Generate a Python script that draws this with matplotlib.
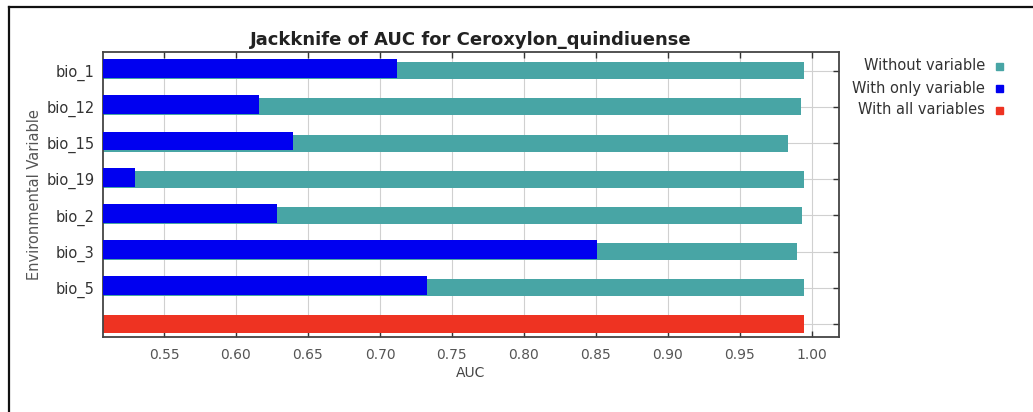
import numpy as np
import matplotlib.pyplot as plt
from matplotlib.lines import Line2D
from matplotlib.patches import Rectangle

# Maxent jackknife results for each environmental variable
variables = ["bio_1", "bio_12", "bio_15", "bio_19", "bio_2", "bio_3", "bio_5"]
auc_without = [0.9947, 0.9924, 0.9836, 0.9947, 0.9935, 0.9896, 0.9947]
auc_only = [0.7115, 0.6161, 0.6398, 0.5297, 0.6288, 0.8511, 0.7324]
auc_all = 0.9947

species = "Ceroxylon_quindiuense"
x_ticks = [0.55, 0.60, 0.65, 0.70, 0.75, 0.80, 0.85, 0.90, 0.95, 1.00]

teal = "#48a5a5"
blue = "#0000f0"
red = "#ee3322"

fig = plt.figure(figsize=(10.33, 4.12), dpi=100)
ax = fig.add_axes([0.0997, 0.182, 0.7125, 0.692])

rows = np.arange(len(variables))
ax.barh(rows, np.array(auc_without) - 0.5, left=0.5, height=0.47,
        color=teal, zorder=2)
ax.barh(rows - 0.06, np.array(auc_only) - 0.5, left=0.5, height=0.52,
        color=blue, zorder=3)
ax.barh([len(variables)], [auc_all - 0.5], left=0.5, height=0.5,
        color=red, zorder=2)

ax.set_xlim(0.5076, 1.0189)
ax.set_ylim(len(variables) + 0.36, -0.52)
ax.set_xticks(x_ticks)
ax.set_xticklabels([f"{t:.2f}" for t in x_ticks], color="#555555", fontsize=10)
ax.set_yticks(list(rows) + [len(variables)])
ax.set_yticklabels(variables + [""], color="#333333", fontsize=10.5)

ax.grid(True, color="#d0d0d0", linewidth=0.8, zorder=0)
ax.set_axisbelow(True)
ax.tick_params(axis="x", direction="in", top=True, length=4, width=1,
               color="#333333", pad=8)
ax.tick_params(axis="y", direction="in", right=True, left=False,
               length=4, width=1, color="#333333", pad=6)
for side in ["left", "right", "top", "bottom"]:
    ax.spines[side].set_color("#444444")
    ax.spines[side].set_linewidth(1.3)

ax.set_xlabel("AUC", color="#444444", fontsize=10, labelpad=3)
ax.set_ylabel("Environmental Variable", color="#555555", fontsize=10.5, labelpad=3)
ax.set_title(f"Jackknife of AUC for {species}", fontsize=13, fontweight="bold",
             color="#222222", pad=5)

# legend on the right: labels right-aligned, small colour squares after them
legend_items = [("Without variable", teal), ("With only variable", blue),
                ("With all variables", red)]
W, H = 1033, 412
for i, (label, col) in enumerate(legend_items):
    y = 66 + 22 * i
    fig.text(985 / W, 1 - y / H, label, ha="right", va="center",
             fontsize=10.5, color="#333333")
    fig.add_artist(Rectangle(((996) / W, 1 - (y + 3.5) / H), 7 / W, 7 / H,
                             transform=fig.transFigure, color=col))

# frame around the panel
fig.add_artist(Line2D([9 / W, 1], [1 - 7 / H, 1 - 7 / H], color="#111111",
                      linewidth=1.6, transform=fig.transFigure))
fig.add_artist(Line2D([9 / W, 9 / W], [0, 1 - 7 / H], color="#111111",
                      linewidth=1.6, transform=fig.transFigure))

fig.savefig("out.png", dpi=100, facecolor="white")
